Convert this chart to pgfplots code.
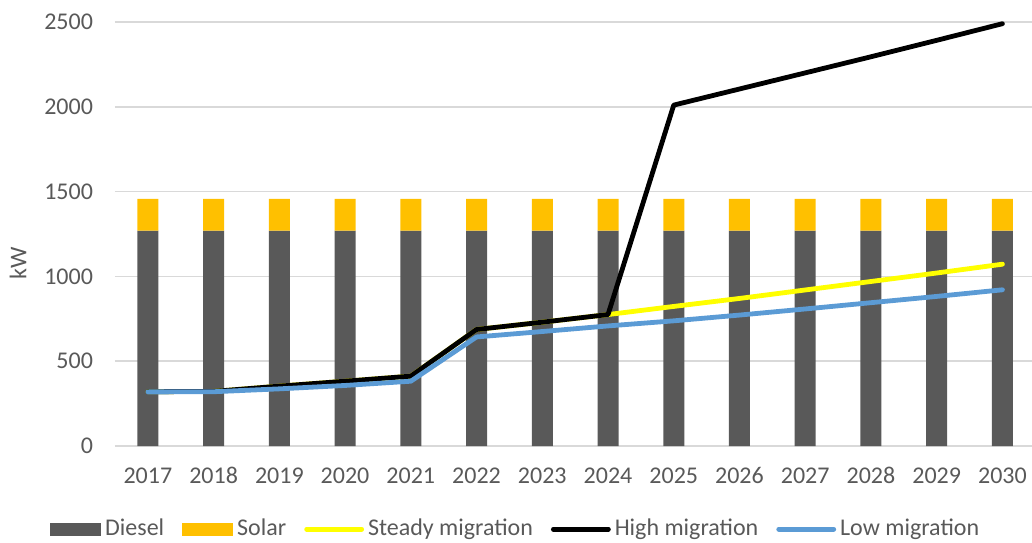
\documentclass[border=0pt]{standalone}
\usepackage{pgfplots}
\pgfplotsset{compat=1.18}
\usepackage{fontspec}
\setmainfont{Carlito}
\definecolor{diesel}{HTML}{595959}
\definecolor{solar}{HTML}{FFC000}
\definecolor{steady}{HTML}{FFFF00}
\definecolor{lowc}{HTML}{5B9BD5}
\definecolor{gridc}{HTML}{D9D9D9}
\definecolor{txt}{HTML}{595959}
\begin{document}
\begin{tikzpicture}
\begin{axis}[
  scale only axis,
  width=458.5pt, height=212pt,
  xmin=-0.5, xmax=13.45,
  ymin=0, ymax=2500,
  ytick={0,500,1000,1500,2000,2500},
  xtick={0,...,13},
  xticklabels={2017,2018,2019,2020,2021,2022,2023,2024,2025,2026,2027,2028,2029,2030},
  major tick length=0pt,
  axis x line*=bottom,
  axis y line*=left,
  x axis line style={gridc, line width=0.75pt, -},
  y axis line style={draw=none},
  ymajorgrids,
  grid style={gridc, line width=0.75pt},
  font=\fontsize{12pt}{14pt}\selectfont,
  tick label style={txt},
  /pgf/number format/assume math mode=true,
  /pgf/number format/1000 sep={},
  yticklabel style={anchor=east, xshift=-7.5pt},
  xticklabel style={anchor=base, yshift=-18.5pt},
  ylabel={kW},
  ylabel style={at={(axis description cs:-0.1058,0.43)}, anchor=center, txt},
  legend columns=-1,
  legend style={draw=none, fill=none, at={(axis description cs:0.438,-0.196)}, anchor=center,
    font=\fontsize{12pt}{14pt}\selectfont, text=txt,
    /tikz/every even column/.append style={column sep=7pt}},
  clip=false,
]
\addplot[ybar stacked, bar width=10.5pt, fill=diesel, draw=none,
  legend image code/.code={\fill[diesel] (0pt,-3.25pt) rectangle (25.5pt,3.25pt);}]
  coordinates {(0,1270) (1,1270) (2,1270) (3,1270) (4,1270) (5,1270) (6,1270) (7,1270) (8,1270) (9,1270) (10,1270) (11,1270) (12,1270) (13,1270)};
\addlegendentry{Diesel}
\addplot[ybar stacked, bar width=10.5pt, fill=solar, draw=none,
  legend image code/.code={\fill[solar] (0pt,-3.25pt) rectangle (25.5pt,3.25pt);}]
  coordinates {(0,187) (1,187) (2,187) (3,187) (4,187) (5,187) (6,187) (7,187) (8,187) (9,187) (10,187) (11,187) (12,187) (13,187)};
\addlegendentry{Solar}
\addplot[steady, line width=2.4pt, line cap=round, line join=round,
  legend image code/.code={\draw[steady, line width=2.4pt, line cap=round] (0pt,0pt) -- (27.5pt,0pt);}]
  coordinates {(0,320) (1,322) (2,353) (3,382) (4,412) (5,687) (6,730) (7,775) (8,823) (9,870) (10,920) (11,970) (12,1020) (13,1072)};
\addlegendentry{Steady migration}
\addplot[black, line width=2.4pt, line cap=round, line join=round,
  legend image code/.code={\draw[black, line width=2.4pt, line cap=round] (0pt,0pt) -- (27.5pt,0pt);}]
  coordinates {(0,320) (1,322) (2,353) (3,382) (4,412) (5,687) (6,730) (7,775) (8,2010) (9,2105) (10,2200) (11,2295) (12,2392) (13,2490)};
\addlegendentry{High migration}
\addplot[lowc, line width=2.4pt, line cap=round, line join=round,
  legend image code/.code={\draw[lowc, line width=2.4pt, line cap=round] (0pt,0pt) -- (27.5pt,0pt);}]
  coordinates {(0,319) (1,320) (2,337) (3,357) (4,382) (5,643) (6,675) (7,708) (8,738) (9,772) (10,808) (11,845) (12,882) (13,921)};
\addlegendentry{Low migration}
\end{axis}
\pgfresetboundingbox
\path[use as bounding box] (-57.5pt,-48pt) rectangle (458.5pt,223pt);
\end{tikzpicture}
\end{document}
